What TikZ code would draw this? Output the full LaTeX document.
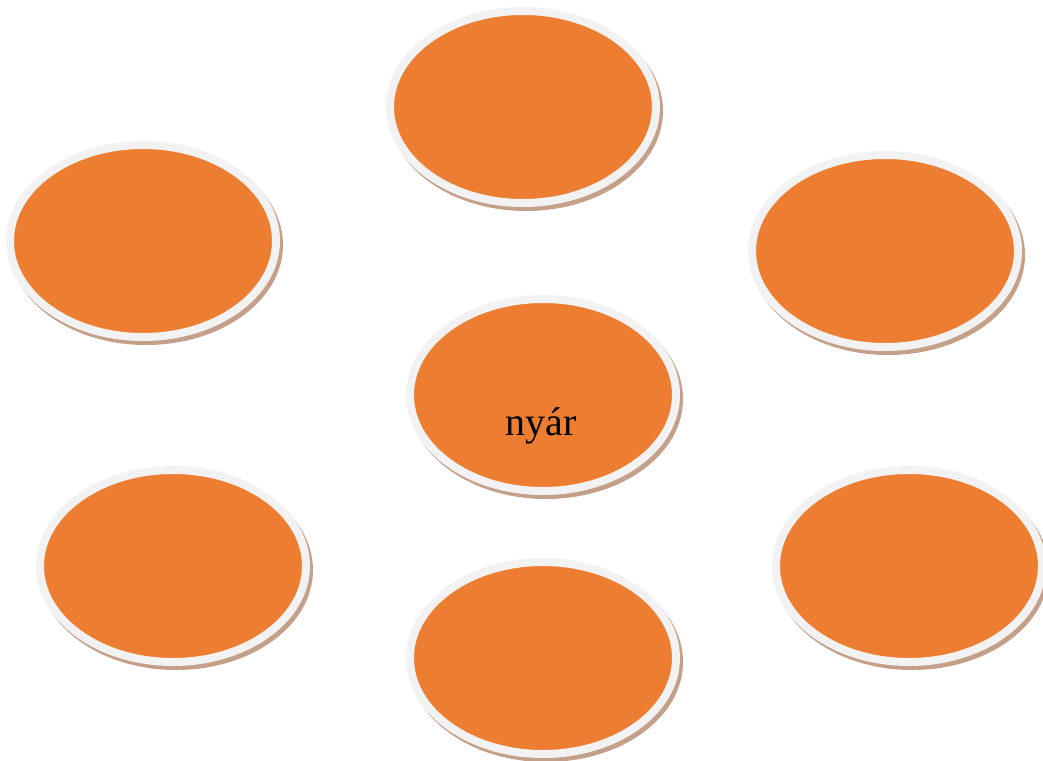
\documentclass[tikz,border=0pt]{standalone}
\usepackage{fontspec}
\setmainfont{Liberation Serif}
\usetikzlibrary{shapes.geometric,shadows}
\definecolor{orng}{HTML}{ED7D31}
\definecolor{ringc}{HTML}{F2F2F2}
\definecolor{shdw}{HTML}{C4A08A}
\tikzset{
  bubble/.style={ellipse, inner sep=0pt, minimum width=266pt, minimum height=192pt,
    fill=orng, draw=ringc, line width=8pt,
    general shadow={fill=shdw, draw=shdw, line width=8pt, shadow xshift=3pt, shadow yshift=-4pt}},
  lbl/.style={font=\fontsize{40}{48}\selectfont, text=black, inner sep=0pt, anchor=base}
}
\begin{document}
\begin{tikzpicture}[x=1pt,y=-1pt]
\useasboundingbox (0,0) rectangle (1043,760);
\node[bubble] (top) at (523,107) {};
\node[bubble] (tl) at (143,241) {};
\node[bubble] (tr) at (885,251) {};
\node[bubble] (mid) at (543,395) {};
\node[bubble] (bl) at (173,566) {};
\node[bubble] (br) at (909,566) {};
\node[bubble] (bot) at (543,658) {};
\node[lbl] (txt) at (541,435) {nyár};
\end{tikzpicture}
\end{document}
